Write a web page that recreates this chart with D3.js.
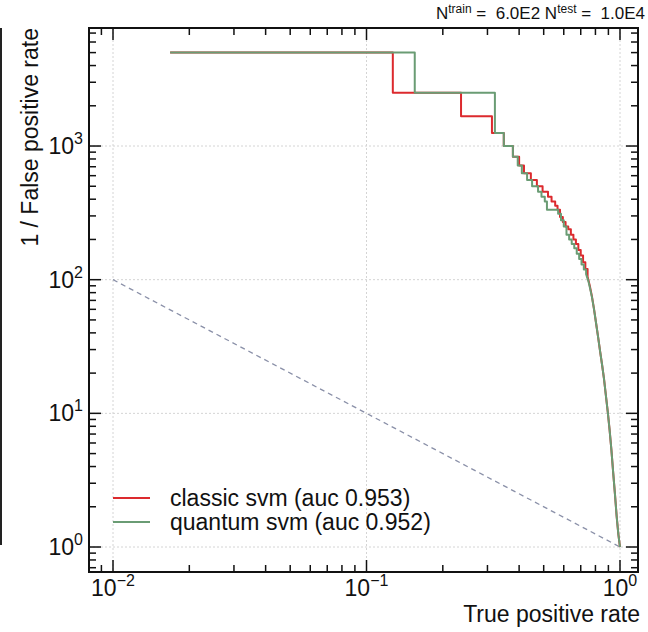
<!DOCTYPE html>
<html>
<head>
<meta charset="utf-8">
<script src="https://cdn.jsdelivr.net/npm/d3@7"></script>
<style>
  body { margin: 0; background: #fff; }
  text { font-family: "Liberation Sans", Arial, sans-serif; fill: #111; }
</style>
</head>
<body>
<div id="chart"></div>
<script>
// ROC points: true positive rate vs 1 / false positive rate
const classicTpr = [0.0168, 0.127, 0.236, 0.3125, 0.348, 0.378, 0.40, 0.418, 0.445, 0.47, 0.495, 0.52, 0.537, 0.555,
  0.567, 0.58, 0.595, 0.61, 0.625, 0.64, 0.655, 0.67, 0.685, 0.70, 0.715, 0.73, 0.745, 0.76, 0.775, 0.79, 0.805,
  0.82, 0.835, 0.85, 0.865, 0.88, 0.895, 0.91, 0.925, 0.94, 0.955, 0.97, 0.985, 1.0];
const classicInvFpr = [5000, 2500, 1667, 1250, 1000, 833, 714, 625, 556, 500, 455, 417, 385, 357,
  333, 294, 270, 250, 238, 217, 200, 185, 167, 152, 135, 120, 105, 90, 75, 60, 47,
  37, 29, 23, 18, 13.5, 10.2, 7.5, 5.3, 3.6, 2.5, 1.7, 1.25, 1.0];

const quantumTpr = [0.0168, 0.155, 0.321, 0.348, 0.378, 0.395, 0.41, 0.43, 0.45, 0.475, 0.49, 0.505, 0.515, 0.57,
  0.585, 0.60, 0.615, 0.63, 0.645, 0.66, 0.675, 0.69, 0.705, 0.72, 0.735, 0.75, 0.76, 0.775, 0.79, 0.805,
  0.82, 0.835, 0.85, 0.865, 0.88, 0.895, 0.91, 0.925, 0.94, 0.955, 0.97, 0.985, 1.0];
const quantumInvFpr = [5000, 2500, 1250, 1000, 833, 714, 625, 556, 500, 455, 417, 385, 333, 312,
  278, 250, 217, 200, 185, 172, 156, 143, 130, 119, 110, 98, 88, 74, 60, 47,
  37, 29, 23, 18, 13.5, 10.2, 7.5, 5.3, 3.6, 2.5, 1.7, 1.25, 1.0];

// random classifier reference: 1/FPR = 1/TPR
const randomTpr = [0.01, 1.0];
const randomInvFpr = [100, 1.0];

const xTickExp = [-2, -1, 0];
const yTickExp = [0, 1, 2, 3];

const seriesNames = ["classic svm (auc 0.953)", "quantum svm (auc 0.952)"];
const seriesColors = ["#dc2a2e", "#6a9c74"];

const margin = {top: 28, right: 10, bottom: 60, left: 89},
      width = 648 - margin.left - margin.right,
      height = 632 - margin.top - margin.bottom;

const root = d3.select("#chart")
    .append("svg")
    .attr("width", 648)
    .attr("height", 632);

const svg = root.append("g")
    .attr("transform", `translate(${margin.left},${margin.top})`);

const x = d3.scaleLog()
    .domain([Math.pow(10, -2.0947), Math.pow(10, 0.071)])
    .range([0, width]);

const y = d3.scaleLog()
    .domain([Math.pow(10, -0.187), Math.pow(10, 3.883)])
    .range([height, 0]);

// grid
svg.append("g").selectAll("line.gx")
    .data(xTickExp)
    .join("line")
    .attr("x1", d => x(Math.pow(10, d))).attr("x2", d => x(Math.pow(10, d)))
    .attr("y1", 0).attr("y2", height)
    .attr("stroke", "#d4d4d4").attr("stroke-width", 1).attr("stroke-dasharray", "2,2");

svg.append("g").selectAll("line.gy")
    .data(yTickExp)
    .join("line")
    .attr("y1", d => y(Math.pow(10, d))).attr("y2", d => y(Math.pow(10, d)))
    .attr("x1", 0).attr("x2", width)
    .attr("stroke", "#d4d4d4").attr("stroke-width", 1).attr("stroke-dasharray", "2,2");

// curves
const toPts = (xs, ys) => xs.map((v, i) => [v, ys[i]]);

const line = d3.line()
    .x(d => x(d[0]))
    .y(d => y(d[1]));

svg.append("path")
    .datum(toPts(randomTpr, randomInvFpr))
    .attr("d", line)
    .attr("fill", "none")
    .attr("stroke", "#8a90a8")
    .attr("stroke-width", 1.3)
    .attr("stroke-dasharray", "5,4");

const stepLine = d3.line()
    .x(d => x(d[0]))
    .y(d => y(d[1]))
    .curve(d3.curveStepAfter);

// staircase where few background events pass, smooth tail below ~100
[[classicTpr, classicInvFpr], [quantumTpr, quantumInvFpr]].forEach(([xs, ys], i) => {
    const pts = toPts(xs, ys);
    const cut = pts.findIndex(d => d[1] < 100);
    svg.append("path")
        .attr("d", stepLine(pts.slice(0, cut)) + line(pts.slice(cut - 1)).replace(/^M/, "L"))
        .attr("fill", "none")
        .attr("stroke", seriesColors[i])
        .attr("stroke-width", 2)
        .attr("stroke-linejoin", "round");
});

// frame
svg.append("rect")
    .attr("width", width).attr("height", height)
    .attr("fill", "none").attr("stroke", "#111").attr("stroke-width", 2);

// ticks on all four sides, pointing inward
const isMajor = v => Math.abs(Math.log10(v) - Math.round(Math.log10(v))) < 1e-6;
const majorLen = 12, minorLen = 7;

const ticks = svg.append("g").attr("stroke", "#111").attr("stroke-width", 1.5);
x.ticks().forEach(v => {
    const len = isMajor(v) ? majorLen : minorLen;
    ticks.append("line").attr("x1", x(v)).attr("x2", x(v)).attr("y1", height).attr("y2", height - len);
    ticks.append("line").attr("x1", x(v)).attr("x2", x(v)).attr("y1", 0).attr("y2", len);
});
y.ticks().forEach(v => {
    const len = isMajor(v) ? majorLen : minorLen;
    ticks.append("line").attr("y1", y(v)).attr("y2", y(v)).attr("x1", 0).attr("x2", len);
    ticks.append("line").attr("y1", y(v)).attr("y2", y(v)).attr("x1", width).attr("x2", width - len);
});

// tick labels
const expLabel = (sel, e) => {
    sel.append("tspan").text("10");
    sel.append("tspan").attr("dy", -10).attr("font-size", 16).text(e < 0 ? "\u2212" + (-e) : e);
};

xTickExp.forEach(e => {
    const t = svg.append("text")
        .attr("x", x(Math.pow(10, e)))
        .attr("y", height + 24)
        .attr("text-anchor", "middle")
        .attr("font-size", 23);
    expLabel(t, e);
});

yTickExp.forEach(e => {
    const t = svg.append("text")
        .attr("x", -6)
        .attr("y", y(Math.pow(10, e)) + 8)
        .attr("text-anchor", "end")
        .attr("font-size", 23);
    expLabel(t, e);
});

// axis titles
svg.append("text")
    .attr("x", width + 2)
    .attr("y", height + 50)
    .attr("text-anchor", "end")
    .attr("font-size", 23)
    .text("True positive rate");

svg.append("text")
    .attr("transform", `translate(${-51},0) rotate(-90)`)
    .attr("text-anchor", "end")
    .attr("font-size", 23)
    .text("1 / False positive rate");

// header
const hdr = root.append("text")
    .attr("x", 645)
    .attr("y", 19)
    .attr("text-anchor", "end")
    .attr("font-size", 17)
    .style("white-space", "pre");
hdr.append("tspan").text("N");
hdr.append("tspan").attr("dy", -6).attr("font-size", 12).text("train");
hdr.append("tspan").attr("dy", 6).text(" =  6.0E2 N");
hdr.append("tspan").attr("dy", -6).attr("font-size", 12).text("test");
hdr.append("tspan").attr("dy", 6).text(" =  1.0E4");

// stray frame edge of the neighbouring panel
root.append("line")
    .attr("x1", 1).attr("x2", 1).attr("y1", 28).attr("y2", 545)
    .attr("stroke", "#222").attr("stroke-width", 2);

// legend
const legend = svg.append("g").attr("transform", `translate(24, ${470})`);
seriesNames.forEach((name, i) => {
    const gy = i * 24;
    legend.append("line")
        .attr("x1", 0).attr("x2", 37)
        .attr("y1", gy).attr("y2", gy)
        .attr("stroke", seriesColors[i]).attr("stroke-width", 2);
    legend.append("text")
        .attr("x", 57)
        .attr("y", gy + 8)
        .attr("font-size", 23)
        .text(name);
});
</script>
</body>
</html>
